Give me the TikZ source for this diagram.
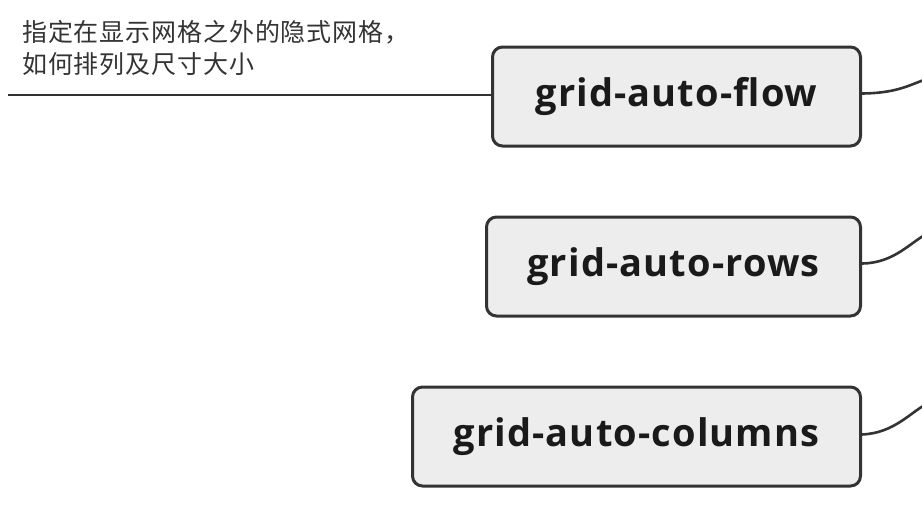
\documentclass[tikz,border=0pt]{standalone}
\usepackage{fontspec}
\setmainfont{Open Sans}
\newfontfamily\topicfont{Open Sans}[LetterSpace=3]
\newfontfamily\cjk{Noto Sans CJK SC}[LetterSpace=3.5]
\definecolor{boxfill}{HTML}{EDEDED}
\definecolor{edge}{HTML}{333333}
\definecolor{txt}{HTML}{1A1A1A}
\begin{document}
\begin{tikzpicture}[x=1pt,y=-1pt,
  topic/.style={draw=edge,line width=3pt,fill=boxfill,rounded corners=10pt,
    text=txt,font=\topicfont\bfseries\fontsize{38}{44}\selectfont,inner sep=0pt,
    text height=27pt,text depth=7pt,anchor=east},
  link/.style={draw=edge,line width=2.6pt},
  note/.style={font=\cjk\fontsize{25}{32}\selectfont,text=edge,align=left,anchor=north west,inner sep=0pt}]
\useasboundingbox (0,0) rectangle (922,504);
\node[topic,minimum width=368pt,minimum height=99pt] (flow) at (862,96.5) {grid-auto-flow};
\node[topic,minimum width=374pt,minimum height=99pt] (rows) at (862,266.5) {grid-auto-rows};
\node[topic,minimum width=448pt,minimum height=99pt] (cols) at (862,436.5) {grid-auto-columns};
\coordinate (e1) at (930,78);
\coordinate (e2) at (930,232);
\coordinate (e3) at (930,402);
\draw[link] (flow.east) ++(0,-3) coordinate (s1) .. controls (900,93) and (910,84) .. (e1);
\draw[link] (rows.east) ++(0,-3) coordinate (s2) .. controls (895,263) and (910,242) .. (e2);
\draw[link] (cols.east) ++(0,-2) coordinate (s3) .. controls (895,433) and (910,412) .. (e3);
\coordinate (n0) at (8,95);
\draw[draw=edge,line width=2pt] (n0) -- (flow.west |- n0);
\node[note] (txt) at (22,20) {指定在显示网格之外的隐式网格，\\如何排列及尺寸大小};
\end{tikzpicture}
\end{document}
